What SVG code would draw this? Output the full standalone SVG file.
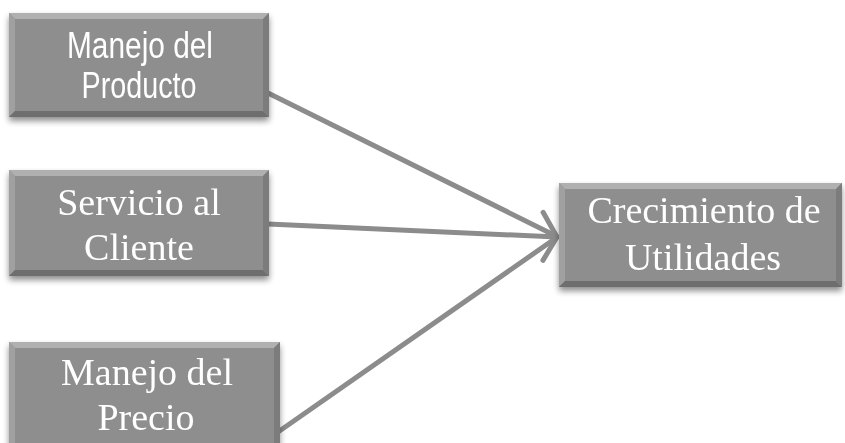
<svg xmlns="http://www.w3.org/2000/svg" width="845" height="443" viewBox="0 0 845 443">
<style>
.box{fill:#8e8e8e}
.hl{fill:#b0b0b0}
.hl2{fill:#a0a0a0}
.dk{fill:#6e6e6e}
.dk2{fill:#7c7c7c}
.sans{font-family:"Liberation Sans",Arial,sans-serif;font-size:36px;fill:#ffffff;text-anchor:middle}
.serif{font-family:"Liberation Serif","Times New Roman",serif;font-size:38px;fill:#ffffff;text-anchor:middle}
.conn{stroke:#8c8c8c;stroke-width:5;fill:none;stroke-linecap:round}
</style>
<defs>
<filter id="sh" x="-10%" y="-10%" width="120%" height="140%">
<feGaussianBlur in="SourceAlpha" stdDeviation="3"/>
<feOffset dx="0" dy="4" result="b"/>
<feComponentTransfer><feFuncA type="linear" slope="0.45"/></feComponentTransfer>
<feMerge><feMergeNode/><feMergeNode in="SourceGraphic"/></feMerge>
</filter>
<marker id="chev" markerUnits="userSpaceOnUse" markerWidth="40" markerHeight="60" viewBox="-20 -30 40 60" refX="0" refY="0" orient="auto">
<path d="M-15,-24 L0,0 L-13,24" fill="none" stroke="#8c8c8c" stroke-width="5" stroke-linecap="round" stroke-linejoin="round"/>
</marker>
</defs>
<g id="connectors">
<line class="conn" x1="268" y1="93" x2="556" y2="236"/>
<line class="conn" x1="268" y1="224" x2="557" y2="237" marker-end="url(#chev)"/>
<line class="conn" x1="278" y1="432" x2="556" y2="238"/>
</g>
<g id="n1" filter="url(#sh)">
<rect class="box" x="9" y="13" width="260" height="104"/>
<polygon class="hl" points="9,13 269,13 263,19 15,19"/>
<polygon class="hl2" points="9,13 15,19 15,111 9,117"/>
<polygon class="dk" points="9,117 15,111 263,111 269,117"/>
<polygon class="dk2" points="269,13 269,117 263,111 263,19"/>
<text class="sans" x="140" y="58" textLength="146" lengthAdjust="spacingAndGlyphs">Manejo del</text>
<text class="sans" x="139" y="98" textLength="115" lengthAdjust="spacingAndGlyphs">Producto</text>
</g>
<g id="n2" filter="url(#sh)">
<rect class="box" x="9" y="170" width="260" height="106"/>
<polygon class="hl" points="9,170 269,170 263,176 15,176"/>
<polygon class="hl2" points="9,170 15,176 15,270 9,276"/>
<polygon class="dk" points="9,276 15,270 263,270 269,276"/>
<polygon class="dk2" points="269,170 269,276 263,270 263,176"/>
<text class="serif" x="139" y="215">Servicio al</text>
<text class="serif" x="139" y="260">Cliente</text>
</g>
<g id="n3" filter="url(#sh)">
<rect class="box" x="9" y="342" width="271" height="106"/>
<polygon class="hl" points="9,342 280,342 274,348 15,348"/>
<polygon class="hl2" points="9,342 15,348 15,448 9,448"/>
<polygon class="dk2" points="280,342 280,448 274,448 274,348"/>
<text class="serif" x="147" y="385">Manejo del</text>
<text class="serif" x="146" y="430">Precio</text>
</g>
<g id="n4" filter="url(#sh)">
<rect class="box" x="559" y="183" width="283" height="104"/>
<polygon class="hl" points="559,183 842,183 836,189 565,189"/>
<polygon class="hl2" points="559,183 565,189 565,281 559,287"/>
<polygon class="dk" points="559,287 565,281 836,281 842,287"/>
<polygon class="dk2" points="842,183 842,287 836,281 836,189"/>
<text class="serif" x="704" y="223">Crecimiento de</text>
<text class="serif" x="703" y="270">Utilidades</text>
</g>
</svg>
